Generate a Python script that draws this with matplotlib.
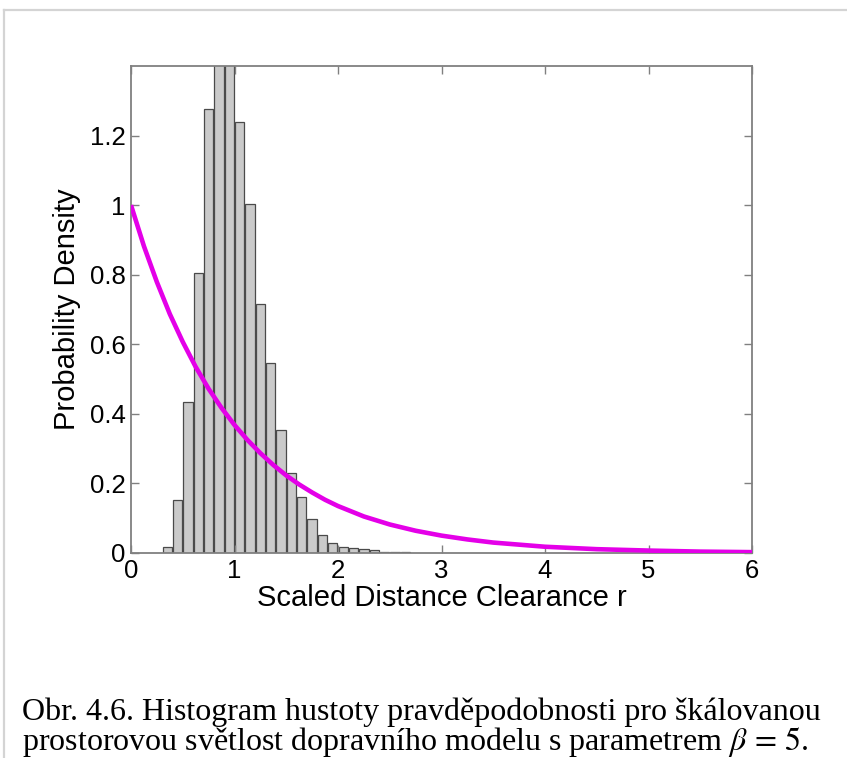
import numpy as np
import matplotlib
matplotlib.use("Agg")
import matplotlib.pyplot as plt
from matplotlib.lines import Line2D

# histogram of scaled clearances (bin width 0.1, bins start at 0.3)
bin_centers = [0.35, 0.45, 0.55, 0.65, 0.75, 0.85, 0.95, 1.05, 1.15, 1.25,
               1.35, 1.45, 1.55, 1.65, 1.75, 1.85, 1.95, 2.05, 2.15, 2.25,
               2.35, 2.45, 2.55, 2.65]
density = [0.017, 0.152, 0.434, 0.805, 1.276, 1.44, 1.42, 1.239, 1.003, 0.715,
           0.546, 0.354, 0.230, 0.161, 0.097, 0.051, 0.029, 0.017, 0.014, 0.011,
           0.008, 0.003, 0.002, 0.002]

# reference density curve
curve_r = [0.0, 0.125, 0.25, 0.375, 0.5, 0.625, 0.75, 0.875, 1.0, 1.125, 1.25,
           1.375, 1.5, 1.625, 1.75, 1.875, 2.0, 2.25, 2.5, 2.75, 3.0, 3.25,
           3.5, 3.75, 4.0, 4.5, 5.0, 5.5, 6.0]
curve_p = [1.0, 0.882, 0.779, 0.687, 0.607, 0.535, 0.472, 0.417, 0.368, 0.325,
           0.287, 0.253, 0.223, 0.197, 0.174, 0.153, 0.135, 0.105, 0.082,
           0.064, 0.050, 0.039, 0.030, 0.024, 0.018, 0.011, 0.007, 0.004,
           0.0025]

x_ticks = [0, 1, 2, 3, 4, 5, 6]
y_ticks = [0, 0.2, 0.4, 0.6, 0.8, 1.0, 1.2]
y_tick_labels = ["0", "0.2", "0.4", "0.6", "0.8", "1", "1.2"]

caption_1 = "Obr. 4.6. Histogram hustoty pravděpodobnosti pro škálovanou"
caption_2 = r"prostorovou světlost dopravního modelu s parametrem $\beta\,=\,5$."

plt.rcParams["font.family"] = ["Liberation Sans", "DejaVu Sans"]
plt.rcParams["mathtext.fontset"] = "stix"

fig = plt.figure(figsize=(8.47, 7.58), dpi=100)
ax = fig.add_axes([131 / 847, 1 - 553 / 758, (752 - 131) / 847, (553 - 66) / 758])

ax.bar(bin_centers, density, width=0.09, color="#cacaca",
       edgecolor="#4a4a4a", linewidth=0.9, zorder=1)
ax.plot(curve_r, curve_p, color="#e400e8", linewidth=3.3, zorder=3,
        solid_capstyle="butt", solid_joinstyle="round")

ax.set_xlim(0, 6)
ax.set_ylim(0, 1.4)
ax.set_xticks(x_ticks)
ax.set_xticklabels([str(t) for t in x_ticks])
ax.set_yticks(y_ticks)
ax.set_yticklabels(y_tick_labels)

for side in ax.spines.values():
    side.set_color("#808080")
    side.set_linewidth(1.3)
ax.tick_params(direction="in", top=True, right=True, length=5.5, width=1.0,
               color="#808080", labelsize=18.5, labelcolor="black")
ax.tick_params(axis="x", pad=4)
ax.tick_params(axis="y", pad=4)

ax.set_xlabel("Scaled Distance Clearance r", fontsize=21, labelpad=1)
ax.set_ylabel("Probability Density", fontsize=21, labelpad=6)

# caption below the plot
fig.text(22 / 847, 1 - 720 / 758, caption_1, fontsize=23,
         family="Liberation Serif", ha="left", va="baseline")
fig.text(22 / 847, 1 - 750 / 758, caption_2, fontsize=23,
         family="Liberation Serif", ha="left", va="baseline")

# light page frame along top and left edges
frame = "#d4d4d4"
fig.add_artist(Line2D([4 / 847, 4 / 847], [0, 1 - 10 / 758],
                      color=frame, linewidth=1.6, transform=fig.transFigure))
fig.add_artist(Line2D([4 / 847, 1], [1 - 10 / 758, 1 - 10 / 758],
                      color=frame, linewidth=1.6, transform=fig.transFigure))

fig.savefig("out.png", dpi=100)
